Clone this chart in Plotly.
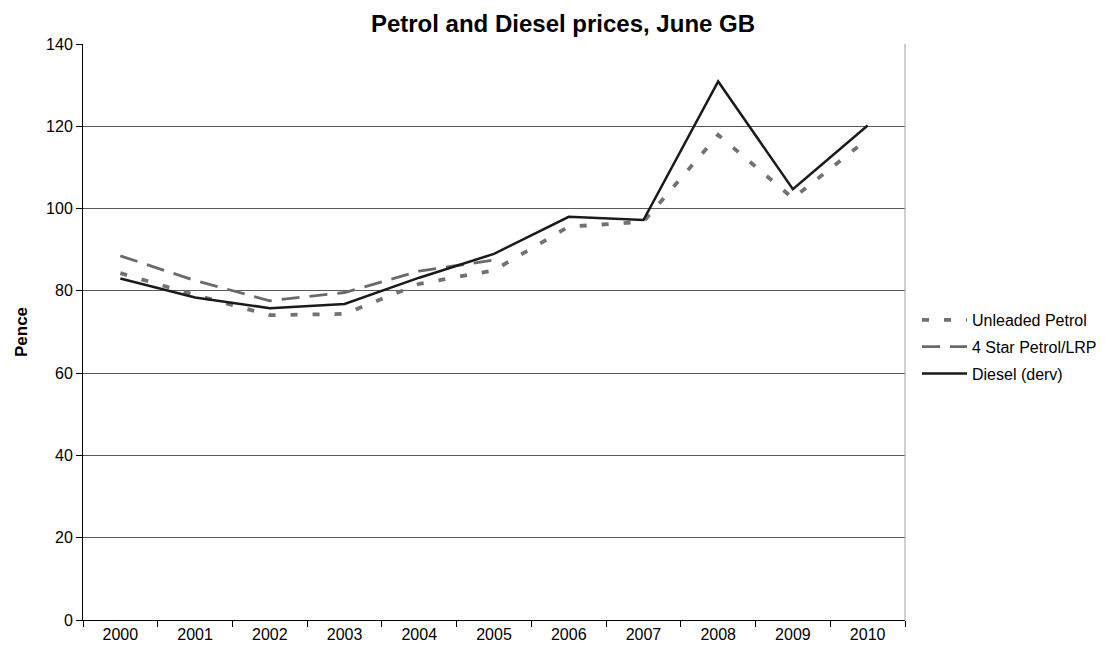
import plotly.graph_objects as go

years = ["2000", "2001", "2002", "2003", "2004", "2005", "2006", "2007", "2008", "2009", "2010"]
unleaded = [84.3, 79.0, 74.1, 74.4, 81.7, 85.0, 95.6, 96.8, 117.9, 102.5, 116.9]
four_star = [88.5, 82.5, 77.6, 79.6, 84.8, 87.5]
diesel = [83.0, 78.4, 75.8, 76.8, 83.2, 89.0, 98.0, 97.2, 130.9, 104.7, 120.2]
y_ticks = [0, 20, 40, 60, 80, 100, 120, 140]

FONT = "Liberation Sans, Arial, sans-serif"
W, H = 1097, 647  # page body has an 8px margin

fig = go.Figure()
fig.add_trace(go.Scatter(x=years, y=unleaded, mode="lines", name="Unleaded Petrol",
                         legendgroup="a",
                         line=dict(color="#727272", width=3.8, dash="7px,15px")))
fig.add_trace(go.Scatter(x=years[:len(four_star)], y=four_star, mode="lines", name="4 Star Petrol/LRP",
                         legendgroup="b",
                         line=dict(color="#6a6a6a", width=2.8, dash="18px,10px")))
fig.add_trace(go.Scatter(x=years, y=diesel, mode="lines", name="Diesel (derv)",
                         legendgroup="c",
                         line=dict(color="#1a1a1a", width=2.5)))

fig.update_layout(
    width=W, height=H,
    margin=dict(l=70, r=200, t=36, b=35),
    paper_bgcolor="white", plot_bgcolor="white",
    font=dict(family=FONT, size=16, color="#000000"),
    title=dict(text="<b>Petrol and Diesel prices, June GB</b>", x=555 / W, xref="container",
               y=1 - 16 / H, yref="container", yanchor="middle", xanchor="center",
               font=dict(family=FONT, size=24, color="#000000")),
    showlegend=True,
    legend=dict(x=909 / W, xref="container", xanchor="left", y=0.474, yanchor="middle",
                tracegroupgap=3, itemwidth=45,
                font=dict(family=FONT, size=16), bgcolor="rgba(0,0,0,0)"),
    xaxis=dict(type="category", range=[-0.5, 10.5], tickson="boundaries",
               ticks="outside", ticklen=6, tickcolor="#000", showgrid=False,
               showline=True, linecolor="#000", linewidth=1,
               tickfont=dict(family=FONT, size=16)),
    yaxis=dict(range=[0, 140], tickvals=y_ticks, ticks="outside", ticklen=6, tickcolor="#000",
               showgrid=True, gridcolor="#5a5a5a", gridwidth=1,
               showline=True, linecolor="#000", linewidth=1, zeroline=False,
               title=dict(text="<b>Pence</b>", standoff=14, font=dict(family=FONT, size=17)),
               tickfont=dict(family=FONT, size=16)),
    shapes=[dict(type="line", xref="paper", yref="paper", x0=1, x1=1, y0=0, y1=1,
                 line=dict(color="#a0a0a0", width=1))],
)

fig.write_html("out.html")
